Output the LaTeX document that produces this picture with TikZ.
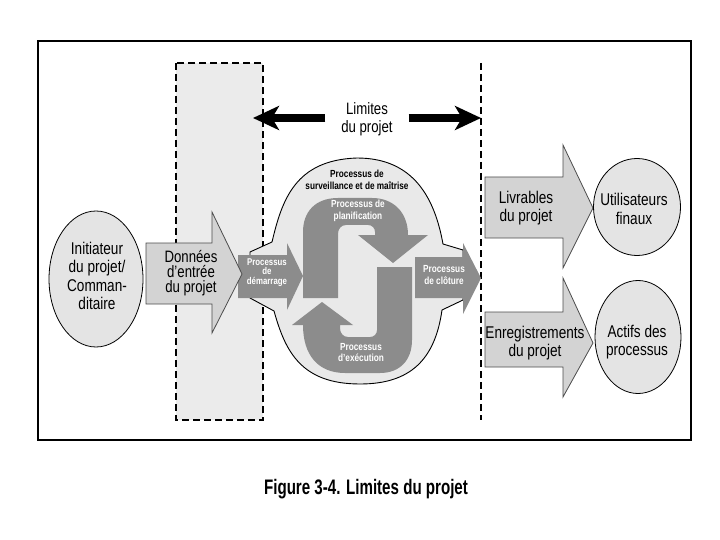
\documentclass[tikz,border=0pt]{standalone}
\usepackage{fontspec}
\setmainfont{Liberation Sans}[FakeStretch=0.8]
\newfontfamily\capfont{Liberation Sans}[FakeStretch=0.72]
\usetikzlibrary{arrows.meta,shapes.geometric}
\definecolor{areafill}{HTML}{EBEBEB}
\definecolor{blobfill}{HTML}{E9E9E9}
\definecolor{darkgr}{HTML}{8C8C8C}
\definecolor{arrowfill}{HTML}{D3D3D3}
\definecolor{ellfill}{HTML}{E4E4E4}
\begin{document}
\begin{tikzpicture}[x=1pt,y=-1pt,
  lbl/.style={align=center, font=\fontsize{17}{18.5}\selectfont, inner sep=0pt},
  lblb/.style={align=center, font=\fontsize{16.5}{15}\selectfont, inner sep=0pt},
  plbl/.style={align=center, text=white, font=\bfseries\fontsize{10.3}{10}\selectfont, inner sep=0pt},
  tlbl/.style={align=center, font=\bfseries\fontsize{10.3}{12}\selectfont, inner sep=0pt},
  dashline/.style={dash pattern=on 7pt off 4pt, line width=1.2pt},
  lightarrow/.style={fill=arrowfill, draw=black!70, line width=0.8pt},
  darkarrow/.style={fill=darkgr},
  ell/.style={ellipse, fill=ellfill, draw=black, line width=0.8pt, inner sep=0pt},
  limarrow/.style={line width=8pt, -{Stealth[length=26pt,width=24pt,inset=7pt]}}
]
\useasboundingbox (0,0) rectangle (720,540);
% outer frame
\draw[line width=1.5pt] (38,41) rectangle (691,440);
% shaded dashed project area
\fill[areafill] (176,63) rectangle (263,420);
\draw[dashline] (176,63) rectangle (263,420);
\draw[dashline] (481,63) -- (481,420);
% monitoring blob
\draw[fill=blobfill, line width=0.9pt]
  (250,252) -- (272,242) .. controls (282,200) and (295,160) .. (357,158)
  .. controls (415,158) and (435,200) .. (443,244) -- (463,250) -- (463,300)
  -- (442,310) .. controls (435,360) and (410,384) .. (360,384)
  .. controls (300,384) and (285,350) .. (274,311) -- (250,298) -- cycle;
% planning arrow
\fill[darkarrow] (303,298) -- (303,232) .. controls (303,212) and (315,198) .. (338,198)
  -- (372,198) .. controls (393,198) and (408,212) .. (408,235) -- (428,235)
  -- (393,263) -- (358,235) -- (375,235) -- (375,232)
  .. controls (375,228) and (372,225) .. (368,225) -- (346,225)
  .. controls (341,225) and (338,229) .. (338,234) -- (338,298) -- cycle;
% executing arrow
\fill[darkarrow] (303,325) .. controls (303,355) and (318,373) .. (345,373)
  -- (380,373) .. controls (400,373) and (412,360) .. (412,340) -- (412,267)
  -- (377,267) -- (377,330) .. controls (377,334) and (374,337) .. (370,337)
  -- (348,337) .. controls (343,337) and (340,333) .. (340,328) -- (340,325)
  -- (353,325) -- (322,302) -- (292,325) -- cycle;
% initiating arrow
\fill[darkarrow] (238,255) -- (287,255) -- (287,243) -- (303,276) -- (287,310) -- (287,298) -- (238,298) -- cycle;
% closing arrow
\fill[darkarrow] (415,257) -- (463,257) -- (463,243) -- (481,278) -- (463,314) -- (463,298) -- (415,298) -- cycle;
% project inputs arrow
\draw[lightarrow] (146,243) -- (212,243) -- (212,212) -- (242,274) -- (212,333) -- (212,304) -- (146,304) -- cycle;
% deliverables arrow
\draw[lightarrow] (485,177) -- (563,177) -- (563,145) -- (593,208) -- (563,268) -- (563,238) -- (485,238) -- cycle;
% records arrow
\draw[lightarrow] (485,312) -- (563,312) -- (563,278) -- (593,343) -- (563,397) -- (563,367) -- (485,367) -- cycle;
% ellipses
\node[ell, minimum width=94pt, minimum height=136pt] (init) at (96,279) {};
\node[lbl] at (97,276) {Initiateur\\du projet/\\Comman-\\ditaire};
\node[ell, minimum width=87pt, minimum height=97pt] (users) at (637,207) {};
\node[lbl] at (634,209) {Utilisateurs\\finaux};
\node[ell, minimum width=86pt, minimum height=113pt] (assets) at (638,337) {};
\node[lbl] at (637,342) {Actifs des\\processus};
% labels
\node[lblb] (inputs) at (191,273) {Données\\d'entrée\\du projet};
\node[lbl] (deliv) at (526,208) {Livrables\\du projet};
\node[lbl] (records) at (535,343) {Enregistrements\\du projet};
\node[tlbl] (monitor) at (357,180) {Processus de\\surveillance et de maîtrise};
\node[plbl, font=\bfseries\fontsize{10.3}{12}\selectfont] (plan) at (358,211) {Processus de\\planification};
\node[plbl, font=\bfseries\fontsize{10.3}{11}\selectfont] (exec) at (361,353) {Processus\\d'exécution};
\node[plbl, font=\bfseries\fontsize{10.3}{12.5}\selectfont] (close) at (444,275) {Processus\\de clôture};
\node[plbl, font=\bfseries\fontsize{9.8}{9.7}\selectfont] (start) at (267,272.5) {Processus\\de\\démarrage};
% project boundaries
\node[lbl, font=\fontsize{16.5}{18}\selectfont, minimum width=83pt] (lim) at (367,119) {Limites\\du projet};
\coordinate (limL) at (253,118);
\coordinate (limR) at (481,118);
\draw[limarrow] (lim.west |- limL) -- (limL);
\draw[limarrow] (lim.east |- limR) -- (limR);
% caption
\node[inner sep=0pt, font=\capfont\bfseries\fontsize{21}{21}\selectfont] (caption) at (366,489) {Figure 3-4. Limites du projet};
\end{tikzpicture}
\end{document}
